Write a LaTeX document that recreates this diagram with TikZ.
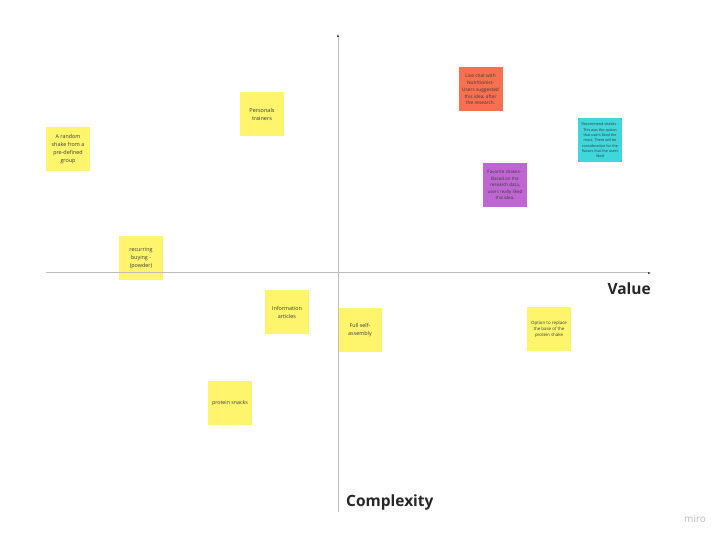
\documentclass[tikz,border=0pt]{standalone}
\usepackage{fontspec}
\setmainfont{Open Sans}
\usetikzlibrary{arrows.meta}
\definecolor{noteyellow}{HTML}{FEF56C}
\definecolor{notered}{HTML}{F8704F}
\definecolor{notecyan}{HTML}{3FD6DC}
\definecolor{notepurple}{HTML}{BF66D2}
\definecolor{axisgray}{HTML}{BDBDBD}
\definecolor{notetext}{HTML}{3A3A3A}
\definecolor{logogray}{HTML}{B9B9C2}
\begin{document}
\begin{tikzpicture}[x=1pt, y=-1pt,
    note/.style={fill=noteyellow, text=notetext, minimum width=44pt, minimum height=44pt,
      inner sep=0pt, align=center},
    axis/.style={draw=axisgray, line width=1pt, -{Latex[length=3pt,width=2.5pt,color=black!75]}},
    axislabel/.style={font=\bfseries\fontsize{15.5}{15.5}\selectfont, text=black!85, inner sep=0pt}]
    \useasboundingbox (0,0) rectangle (724,540);

    % stickies, value side
    \node (chat) [note, fill=notered, font=\fontsize{4.8}{6.8}\selectfont] at (480.5,89.5)
        {Live chat with\\ Nutritionist-\\ Users suggested\\ this idea, after\\ the research.};
    \node (recommend) [note, fill=notecyan, font=\fontsize{3.7}{5.3}\selectfont] at (600,140.5)
        {Recommend shakes -\\ This was the option\\ that users liked the\\ most. There will be\\ consideration for the\\ flavors that the users\\ liked};
    \node (favorite) [note, fill=notepurple, font=\fontsize{4.5}{6.4}\selectfont] at (505,185)
        {Favorite shakes -\\ Based on the\\ research data,\\ users really liked\\ this idea.};
    \node (replace) [note, font=\fontsize{4.4}{5.7}\selectfont] at (549,329.5)
        {Option to replace\\ the base of the\\ protein shake};
    \node (assembly) [note, font=\fontsize{5.4}{8}\selectfont] at (360,330)
        {Full self-\\ assembly};

    % stickies, left side
    \node (random) [note, font=\fontsize{5.4}{7.8}\selectfont] at (68,149)
        {A random\\ shake from a\\ pre-defined\\ group};
    \node (trainers) [note, font=\fontsize{5.5}{8}\selectfont] at (262,114.5)
        {Personals\\ trainers};
    \node (recurring) [note, font=\fontsize{5.4}{8}\selectfont] at (141,258.5)
        {recurring\\ buying -\\ (powder)};
    \node (articles) [note, font=\fontsize{5.4}{8}\selectfont] at (287,312.5)
        {Information\\ articles};
    \node (snacks) [note, font=\fontsize{5.3}{8}\selectfont] at (230,403.5)
        {protein snacks};

    % axes
    \coordinate (xstart) at (46,273);
    \coordinate (xend) at (651,273);
    \coordinate (ybot) at (338,512);
    \coordinate (ytop) at (338,34);
    \draw [axis] (xstart) -- (xend);
    \draw [axis] (ybot) -- (ytop);
    \node (value) [axislabel, anchor=base east] at (651,295) {Value};
    \node (complexity) [axislabel, anchor=base west] at (346,507) {Complexity};

    \node (logo) [text=logogray, font=\fontsize{10}{10}\selectfont, anchor=base west, inner sep=0pt] at (684,522) {miro};
\end{tikzpicture}
\end{document}
